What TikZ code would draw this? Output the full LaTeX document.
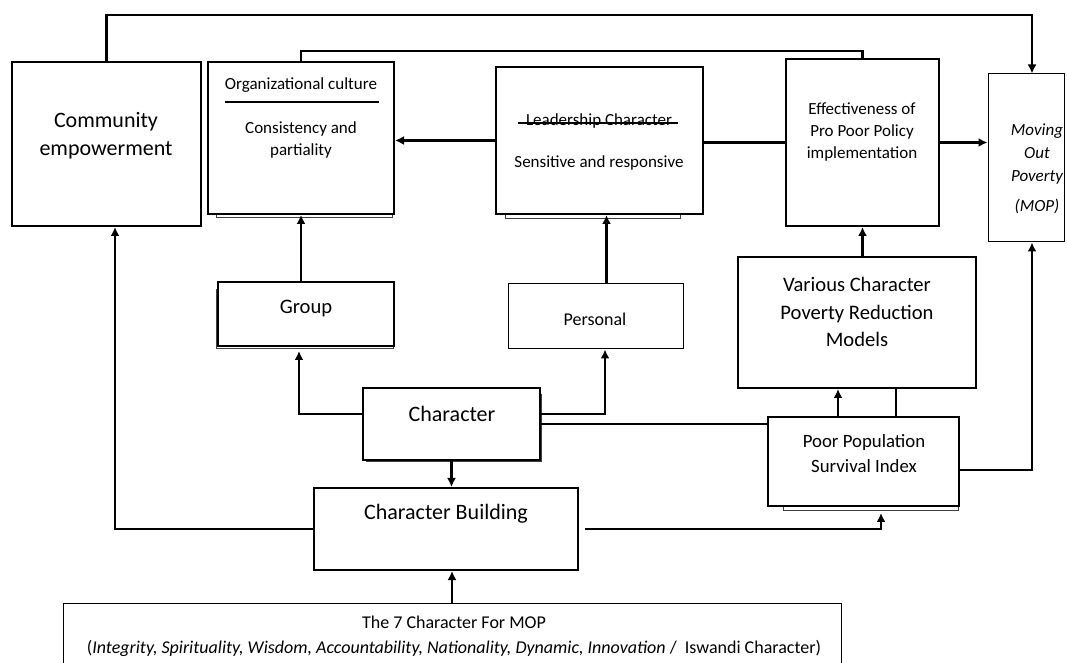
\documentclass[tikz,border=0pt]{standalone}
\usepackage{fontspec}
\setmainfont{Carlito}
\usetikzlibrary{arrows.meta,positioning}
\tikzset{
  mainbox/.style={draw,line width=1pt,fill=white,inner sep=0pt},
  thinbox/.style={draw,line width=0.5pt,fill=white,inner sep=0pt},
  platebox/.style={draw=black!75,line width=0.5pt,fill=white},
  flowarrow/.style={-{Latex[length=4.5pt,width=4.5pt]},line width=1.3pt},
  flowline/.style={line width=1.3pt},
  boxtext/.style={align=center,inner sep=0pt},
  bigtext/.style={boxtext,font=\fontsize{11}{14}\selectfont},
  midtext/.style={boxtext,font=\fontsize{10.3}{13.8}\selectfont},
  smalltext/.style={boxtext,font=\fontsize{8.5}{11}\selectfont}
}

\begin{document}
\begin{tikzpicture}[x=0.5pt,y=-0.5pt]
  \useasboundingbox (0,0) rectangle (1067,663);
  % plates behind the stacked boxes
  \draw[platebox] (216,70) rectangle (392,218);
  \draw[platebox] (505,75) rectangle (680,219);
  \draw[platebox] (216,290) rectangle (393,349);
  \draw[platebox] (783,425) rectangle (958,511);
  \draw[platebox] (366,395) rectangle (541,462);

  % boxes
  \node[mainbox,minimum width=94.5pt,minimum height=82pt] (comm) at (106.5,144) {};
  \node[mainbox,minimum width=93pt,minimum height=76pt] (org) at (301,138) {};
  \node[mainbox,minimum width=103.5pt,minimum height=73.5pt] (lead) at (599.5,140.5) {};
  \node[mainbox,minimum width=76.5pt,minimum height=83.5pt] (eff) at (862.5,142.5) {};
  \node[thinbox,minimum width=38pt,minimum height=84pt] (mop) at (1026,158) {};
  \node[mainbox,minimum width=88pt,minimum height=32pt] (group) at (306,314) {};
  \node[thinbox,minimum width=87.5pt,minimum height=32.5pt] (pers) at (595.5,316.5) {};
  \node[mainbox,minimum width=119pt,minimum height=65.5pt] (various) at (857,322.5) {};
  \node[mainbox,minimum width=88.5pt,minimum height=36pt] (charac) at (451.5,424) {};
  \node[mainbox,minimum width=95.5pt,minimum height=44.5pt] (poor) at (863.5,461.5) {};
  \node[mainbox,minimum width=132pt,minimum height=41pt] (build) at (446,529) {};
  \node[thinbox,minimum width=389pt,minimum height=48.5pt] (seven) at (452,651.5) {};

  % texts
  \node[bigtext] (commtext) at (106,136) {Community\\empowerment};
  \node[smalltext] (orgtitle) at (301,85) {Organizational culture};
  \draw[line width=0.8pt] (225,102) -- (379,102);
  \node[smalltext] (orgbody) at (301,140) {Consistency and\\partiality};
  \node[smalltext] (leadtitle) at (599,121) {Leadership Character};
  \draw[line width=0.7pt] (518,123) -- (678,123);
  \node[smalltext] (leadbody) at (599,163) {Sensitive and responsive};
  \node[smalltext] (efftext) at (862,132) {Effectiveness of\\Pro Poor Policy\\implementation};
  \node[smalltext,font=\fontsize{8.5}{11.5}\selectfont\itshape] (moptext) at (1037,169)
    {Moving\\Out\\Poverty\\[3.5pt](MOP)};
  \node[midtext] (grouptext) at (306,308) {Group};
  \node[boxtext,font=\fontsize{9}{11}\selectfont] (perstext) at (595,319) {Personal};
  \node[midtext] (varioustext) at (857,312) {Various Character\\Poverty Reduction\\Models};
  \node[bigtext] (charactext) at (452,414) {Character};
  \node[boxtext,font=\fontsize{9.4}{12.5}\selectfont] (poortext) at (864,454) {Poor Population\\Survival Index};
  \node[bigtext] (buildtext) at (446,514) {Character Building};
  \node[boxtext,font=\fontsize{9}{12.5}\selectfont] (seventext) at (454,636)
    {The 7 Character For MOP\\(\textit{Integrity, Spirituality, Wisdom, Accountability, Nationality, Dynamic, Innovation} /\ \ Iswandi Character)};

  % connectors
  \draw[flowarrow] (comm.north) -- ++(0,-46) -| ([xshift=3pt]mop.north);
  \draw[flowline] (org.north) -- ++(0,-10) -| (eff.north);
  \draw[flowline] (eff.west) -- (eff.west -| lead.east);
  \draw[flowarrow] (lead.west) -- (lead.west -| org.east);
  \draw[flowarrow] (eff.east) -- (eff.east -| mop.west);
  \draw[flowarrow] (group.north -| org.south) -- (org.south);
  \draw[flowarrow] ([xshift=3.5pt]pers.north -| lead.south) -- ([xshift=3.5pt]lead.south);
  \draw[flowarrow] ([yshift=5pt]charac.west) -| ([xshift=-3.5pt,yshift=-2pt]group.south);
  \draw[flowarrow] ([yshift=5pt]charac.east) -| ([xshift=4.75pt]pers.south);
  \draw[flowline] (charac.east) -- (charac.east -| poor.west);
  \draw[flowarrow] ([xshift=-12.75pt]poor.north) -- ([xshift=-12.75pt]poor.north |- various.south);
  \draw[flowline] ([xshift=16.25pt]poor.north) -- ([xshift=16.25pt]poor.north |- various.south);
  \draw[flowarrow] (various.north -| eff.south) -- (eff.south);
  \draw[flowarrow] ([yshift=-4.25pt]poor.east) -| ([xshift=3pt]mop.south);
  \draw[flowarrow] (charac.south) -- (charac.south |- build.north);
  \draw[flowarrow] (build.west) -| ([xshift=4.25pt]comm.south);
  \draw[flowarrow] ([xshift=3pt]build.east) -| ([xshift=8.75pt,yshift=-3pt]poor.south);
  \draw[flowarrow] (seven.north) -- (seven.north |- build.south);
\end{tikzpicture}
\end{document}
